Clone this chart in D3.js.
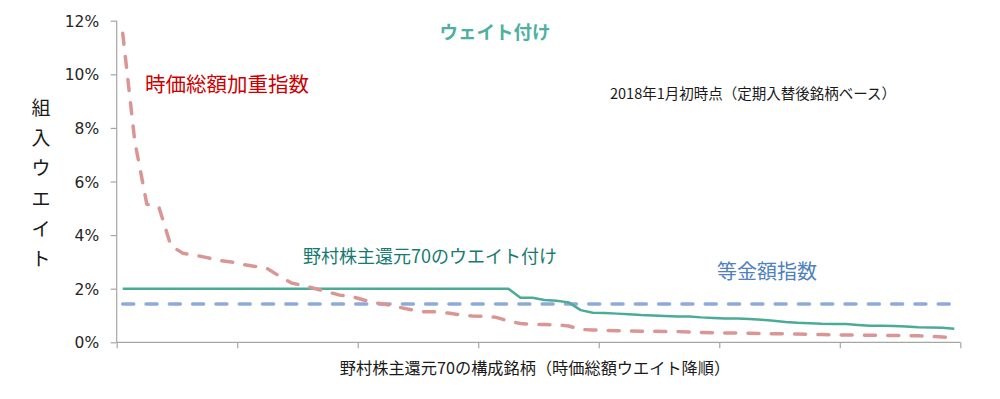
<!DOCTYPE html>
<html>
<head>
<meta charset="utf-8">
<script src="https://cdn.jsdelivr.net/npm/d3@7"></script>
<style>
  body { margin: 0; background: #fff; }
  svg { display: block; }
  text { font-family: "Noto Sans CJK JP", sans-serif; }
</style>
</head>
<body>
<div id="chart"></div>
<script>
// 野村株主還元70 constituent weights, sorted by market-cap weight (descending)
const width = 1000;
const height = 399;

const xTicks = [0, 10, 20, 30, 40, 50, 60, 70];
const yTicks = [0, 2, 4, 6, 8, 10, 12];

// 時価総額加重指数 (%)
const capWeight = [
  11.53, 7.5, 5.15, 5.05, 3.6, 3.32, 3.25, 3.16, 3.05, 3.0,
  2.9, 2.83, 2.75, 2.47, 2.21, 2.12, 2.0, 1.88, 1.76, 1.71,
  1.58, 1.47, 1.4, 1.3, 1.21, 1.14, 1.14, 1.09, 1.02, 0.98,
  0.97, 0.93, 0.79, 0.7, 0.67, 0.66, 0.65, 0.61, 0.48, 0.46,
  0.44, 0.43, 0.42, 0.41, 0.41, 0.40, 0.40, 0.38, 0.37, 0.36,
  0.35, 0.35, 0.34, 0.33, 0.32, 0.32, 0.31, 0.30, 0.29, 0.28,
  0.27, 0.27, 0.26, 0.26, 0.25, 0.25, 0.24, 0.22, 0.20, 0.17
];

// 野村株主還元70のウエイト付け (%)
const shareholderWeight = [
  2.0, 2.0, 2.0, 2.0, 2.0, 2.0, 2.0, 2.0, 2.0, 2.0,
  2.0, 2.0, 2.0, 2.0, 2.0, 2.0, 2.0, 2.0, 2.0, 2.0,
  2.0, 2.0, 2.0, 2.0, 2.0, 2.0, 2.0, 2.0, 2.0, 2.0,
  2.0, 2.0, 2.0, 1.66, 1.66, 1.58, 1.55, 1.49, 1.2, 1.1,
  1.09, 1.07, 1.05, 1.02, 1.0, 0.98, 0.96, 0.96, 0.93, 0.91,
  0.89, 0.89, 0.87, 0.84, 0.8, 0.76, 0.73, 0.71, 0.69, 0.68,
  0.68, 0.65, 0.62, 0.62, 0.61, 0.59, 0.56, 0.55, 0.54, 0.51
];

// 等金額指数 (%)
const equalWeight = [
  1.43, 1.43, 1.43, 1.43, 1.43, 1.43, 1.43, 1.43, 1.43, 1.43,
  1.43, 1.43, 1.43, 1.43, 1.43, 1.43, 1.43, 1.43, 1.43, 1.43,
  1.43, 1.43, 1.43, 1.43, 1.43, 1.43, 1.43, 1.43, 1.43, 1.43,
  1.43, 1.43, 1.43, 1.43, 1.43, 1.43, 1.43, 1.43, 1.43, 1.43,
  1.43, 1.43, 1.43, 1.43, 1.43, 1.43, 1.43, 1.43, 1.43, 1.43,
  1.43, 1.43, 1.43, 1.43, 1.43, 1.43, 1.43, 1.43, 1.43, 1.43,
  1.43, 1.43, 1.43, 1.43, 1.43, 1.43, 1.43, 1.43, 1.43, 1.43
];

const yLabel = '組入ウエイト';

const svg = d3.select('#chart')
  .append('svg')
  .attr('width', width)
  .attr('height', height);

const x = d3.scaleLinear().domain([0, 70]).range([116.7, 960.3]);
const y = d3.scaleLinear().domain([0, 12]).range([342.3, 20.7]);

// axes
const xAxis = svg.append('g')
  .attr('transform', `translate(0,${y(0)})`)
  .call(d3.axisBottom(x).tickValues(xTicks).tickSize(6).tickFormat(''));

const yAxis = svg.append('g')
  .attr('transform', `translate(${x(0)},0)`)
  .call(d3.axisLeft(y).tickValues(yTicks).tickSize(6).tickFormat(d => d + '%'));

[xAxis, yAxis].forEach(g => {
  g.select('.domain').attr('stroke', '#a6a6a6').attr('stroke-width', 1.2);
  g.selectAll('.tick line').attr('stroke', '#a6a6a6').attr('stroke-width', 1.2);
});
xAxis.select('.domain').attr('d', `M${x(0)},0H${x(70)}`);
yAxis.select('.domain').attr('d', `M0,${y(12)}V${y(0)}`);

yAxis.selectAll('.tick text')
  .attr('x', -17.5)
  .attr('dy', '0.36em')
  .attr('fill', '#262626')
  .style('font-family', '"DejaVu Sans", sans-serif')
  .style('font-size', '15.5px');

// lines
const line = d3.line()
  .x((d, i) => x(i + 0.5))
  .y(d => y(d));

svg.append('path')
  .datum(equalWeight)
  .attr('d', line)
  .attr('fill', 'none')
  .attr('stroke', '#8eaadb')
  .attr('stroke-width', 3.5)
  .attr('stroke-linecap', 'round')
  .attr('stroke-dasharray', '11,12.3');

svg.append('path')
  .datum(shareholderWeight)
  .attr('d', line)
  .attr('fill', 'none')
  .attr('stroke', '#4bac96')
  .attr('stroke-width', 2.5)
  .attr('stroke-linejoin', 'round');

svg.append('path')
  .datum(capWeight)
  .attr('d', line)
  .attr('fill', 'none')
  .attr('stroke', '#da9694')
  .attr('stroke-width', 3.5)
  .attr('stroke-linecap', 'round')
  .attr('stroke-linejoin', 'round')
  .attr('stroke-dasharray', '11,12.3');

// texts
svg.append('text')
  .attr('x', 495).attr('y', 31)
  .attr('text-anchor', 'middle')
  .attr('dominant-baseline', 'central')
  .attr('fill', '#4fb0a0')
  .style('font-size', '18.5px')
  .style('font-weight', 'bold')
  .text('ウェイト付け');

svg.append('text')
  .attr('x', 610).attr('y', 92)
  .attr('dominant-baseline', 'central')
  .attr('fill', '#1a1a1a')
  .style('font-size', '14.5px')
  .text('2018年1月初時点（定期入替後銘柄ベース）');

svg.append('text')
  .attr('x', 145).attr('y', 83)
  .attr('dominant-baseline', 'central')
  .attr('fill', '#cc0000')
  .style('font-size', '20.5px')
  .text('時価総額加重指数');

svg.append('text')
  .attr('x', 303).attr('y', 255)
  .attr('dominant-baseline', 'central')
  .attr('fill', '#177a6e')
  .style('font-size', '18px')
  .text('野村株主還元70のウエイト付け');

svg.append('text')
  .attr('x', 717).attr('y', 270)
  .attr('dominant-baseline', 'central')
  .attr('fill', '#4f81bd')
  .style('font-size', '20px')
  .text('等金額指数');

svg.append('text')
  .attr('x', 535).attr('y', 367)
  .attr('text-anchor', 'middle')
  .attr('dominant-baseline', 'central')
  .attr('fill', '#1a1a1a')
  .style('font-size', '16.2px')
  .text('野村株主還元70の構成銘柄（時価総額ウエイト降順）');

// vertical y-axis title, one glyph per row
const yTitle = svg.append('text')
  .attr('fill', '#1a1a1a')
  .attr('text-anchor', 'middle')
  .style('font-size', '19px');

yTitle.selectAll('tspan')
  .data(Array.from(yLabel))
  .enter()
  .append('tspan')
  .attr('x', 41)
  .attr('y', (d, i) => 115 + i * 30.2)
  .text(d => d);
</script>
</body>
</html>
